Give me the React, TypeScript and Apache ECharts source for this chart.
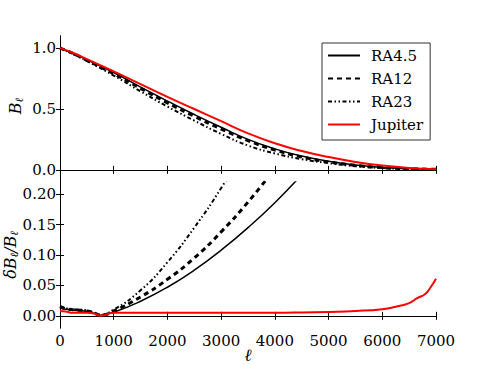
import React, { useEffect, useRef } from "react";
import * as echarts from "echarts";

// Top panel: beam functions B_ell
const ellTop = [0, 250, 500, 1000, 1500, 2000, 2500, 3000, 3500, 4000, 4500, 5000, 5500, 6000, 6500, 7000];
const bRA45 = [1.0, 0.955, 0.905, 0.8, 0.68, 0.565, 0.455, 0.35, 0.25, 0.172, 0.113, 0.07, 0.04, 0.02, 0.01, 0.005];
const bRA12 = [1.0, 0.955, 0.9, 0.79, 0.67, 0.55, 0.44, 0.335, 0.24, 0.163, 0.106, 0.065, 0.037, 0.018, 0.009, 0.004];
const bRA23 = [1.0, 0.95, 0.895, 0.775, 0.645, 0.52, 0.405, 0.295, 0.2, 0.135, 0.088, 0.055, 0.03, 0.015, 0.008, 0.004];
const bJup = [1.0, 0.96, 0.91, 0.81, 0.705, 0.6, 0.5, 0.4, 0.3, 0.218, 0.155, 0.105, 0.065, 0.035, 0.015, 0.005];

// Bottom panel: relative error dB/B
const ellBot = [0, 100, 250, 500, 650, 745, 1000, 1500, 2000, 2500, 3000, 3500, 4000, 4500, 5000, 5500, 6000, 6250, 6500, 6650, 6800, 6900, 7000];
const dRA45 = [0.013, 0.011, 0.009, 0.007, 0.004, 0.001, 0.006, 0.024, 0.047, 0.075, 0.108, 0.145, 0.186, 0.232, null, null, null, null, null, null, null, null, null];
const dRA12 = [0.015, 0.012, 0.01, 0.008, 0.004, 0.001, 0.008, 0.031, 0.06, 0.095, 0.138, 0.187, 0.242, null, null, null, null, null, null, null, null, null, null];
const dRA23 = [0.016, 0.013, 0.011, 0.009, 0.005, 0.002, 0.01, 0.042, 0.088, 0.145, 0.21, 0.285, null, null, null, null, null, null, null, null, null, null, null];
const dJup = [0.008, 0.007, 0.005, 0.005, 0.0035, 0.0, 0.005, 0.005, 0.005, 0.005, 0.005, 0.005, 0.005, 0.0055, 0.0065, 0.008, 0.011, 0.015, 0.021, 0.029, 0.036, 0.047, 0.061];

const xTicks = [0, 1000, 2000, 3000, 4000, 5000, 6000, 7000];
const yTopTicks = [0.0, 0.5, 1.0];
const yBotTicks = [0.0, 0.05, 0.1, 0.15, 0.2];

const FONT = "DejaVu Serif";

const pairs = (xs: number[], ys: (number | null)[]) => xs.map((x, i) => [x, ys[i]]);

const styles: Record<string, any> = {
  "RA4.5": { color: "#000", width: 1.5, type: "solid" },
  RA12: { color: "#000", width: 3, type: [5, 4] },
  RA23: { color: "#000", width: 2, type: [4, 2.5, 1.5, 2.5, 1.5, 2.5] },
  Jupiter: { color: "#ff0000", width: 2, type: "solid" },
};

export default function App() {
  const ref = useRef<HTMLDivElement>(null);
  useEffect(() => {
    const chart = echarts.init(ref.current!, null, { renderer: "svg" });
    const axisLine = { show: true, lineStyle: { color: "#000", width: 1 } };
    const tick = (vals: number[]) => ({ show: true, inside: true, length: 4, lineStyle: { color: "#000" }, customValues: vals });
    const xAxis = (gi: number, pos: string, labels: boolean) => ({
      type: "value",
      gridIndex: gi,
      position: pos,
      min: 0,
      max: 7000,
      interval: 1000,
      axisLine,
      axisTick: tick(xTicks),
      splitLine: { show: false },
      axisLabel: labels
        ? { show: true, customValues: xTicks, fontFamily: FONT, fontSize: 15, color: "#000", margin: 5, formatter: (v: number) => String(v) }
        : { show: false },
    });
    const yAxis = (gi: number, pos: string, labels: boolean, min: number, max: number, vals: number[], dec: number) => ({
      type: "value",
      gridIndex: gi,
      position: pos,
      min,
      max,
      axisLine,
      axisTick: tick(vals),
      splitLine: { show: false },
      axisLabel: labels
        ? { show: true, customValues: vals, fontFamily: FONT, fontSize: 15, color: "#000", margin: 4, formatter: (v: number) => v.toFixed(dec) }
        : { show: false },
    });
    const mk = (name: string, xi: number, yi: number, data: any[]) => ({
      type: "line",
      name,
      xAxisIndex: xi,
      yAxisIndex: yi,
      data,
      showSymbol: false,
      symbol: "none",
      smooth: 0.5,
      clip: true,
      itemStyle: { color: styles[name].color },
      lineStyle: { ...styles[name] },
      z: name === "Jupiter" ? 3 : 2,
    });
    chart.setOption({
      animation: false,
      backgroundColor: "#fff",
      grid: [
        { left: 60, top: 36, width: 376, height: 146 },
        { left: 60, top: 182, width: 376, height: 146 },
      ],
      xAxis: [xAxis(0, "bottom", false), xAxis(0, "top", false), xAxis(1, "bottom", true), xAxis(1, "top", false)],
      yAxis: [
        yAxis(0, "left", true, -0.1, 1.1, yTopTicks, 1),
        yAxis(0, "right", false, -0.1, 1.1, yTopTicks, 1),
        yAxis(1, "left", true, -0.02, 0.22, yBotTicks, 2),
        yAxis(1, "right", false, -0.02, 0.22, yBotTicks, 2),
      ],
      legend: {
        data: ["RA4.5", "RA12", "RA23", "Jupiter"],
        orient: "vertical",
        left: 322,
        top: 43,
        padding: [5, 7, 8, 5],
        itemWidth: 32,
        itemHeight: 14,
        itemGap: 8,
        borderColor: "#333",
        borderWidth: 1,
        backgroundColor: "#fff",
        itemStyle: { opacity: 0 },
        textStyle: { fontFamily: FONT, fontSize: 15, color: "#000", padding: [0, 0, 0, 6] },
      },
      series: [
        mk("RA4.5", 0, 0, pairs(ellTop, bRA45)),
        mk("RA12", 0, 0, pairs(ellTop, bRA12)),
        mk("RA23", 0, 0, pairs(ellTop, bRA23)),
        mk("Jupiter", 0, 0, pairs(ellTop, bJup)),
        mk("RA4.5", 2, 2, pairs(ellBot, dRA45)),
        mk("RA12", 2, 2, pairs(ellBot, dRA12)),
        mk("RA23", 2, 2, pairs(ellBot, dRA23)),
        mk("Jupiter", 2, 2, pairs(ellBot, dJup)),
      ],
      graphic: [
        {
          type: "text",
          x: 15,
          y: 106,
          rotation: Math.PI / 2,
          style: {
            text: "{i|B}{s|ℓ}",
            align: "center",
            verticalAlign: "middle",
            rich: {
              i: { fontFamily: FONT, fontStyle: "italic", fontSize: 16, fill: "#000" },
              s: { fontFamily: FONT, fontStyle: "italic", fontSize: 11, fill: "#000", padding: [8, 0, 0, 0] },
            },
          },
        },
        {
          type: "text",
          x: 10,
          y: 255,
          rotation: Math.PI / 2,
          style: {
            text: "{i|δB}{s|ℓ}{i|/B}{s|ℓ}",
            align: "center",
            verticalAlign: "middle",
            rich: {
              i: { fontFamily: FONT, fontStyle: "italic", fontSize: 16, fill: "#000" },
              s: { fontFamily: FONT, fontStyle: "italic", fontSize: 11, fill: "#000", padding: [8, 0, 0, 0] },
            },
          },
        },
        {
          type: "text",
          x: 248,
          y: 355,
          style: {
            text: "ℓ",
            align: "center",
            verticalAlign: "middle",
            fontFamily: FONT,
            fontStyle: "italic",
            fontSize: 17,
            fill: "#000",
          },
        },
      ],
    });
    return () => chart.dispose();
  }, []);
  return <div ref={ref} style={{ width: 485, height: 365, position: "absolute", left: 0, top: 0 }} />;
}
